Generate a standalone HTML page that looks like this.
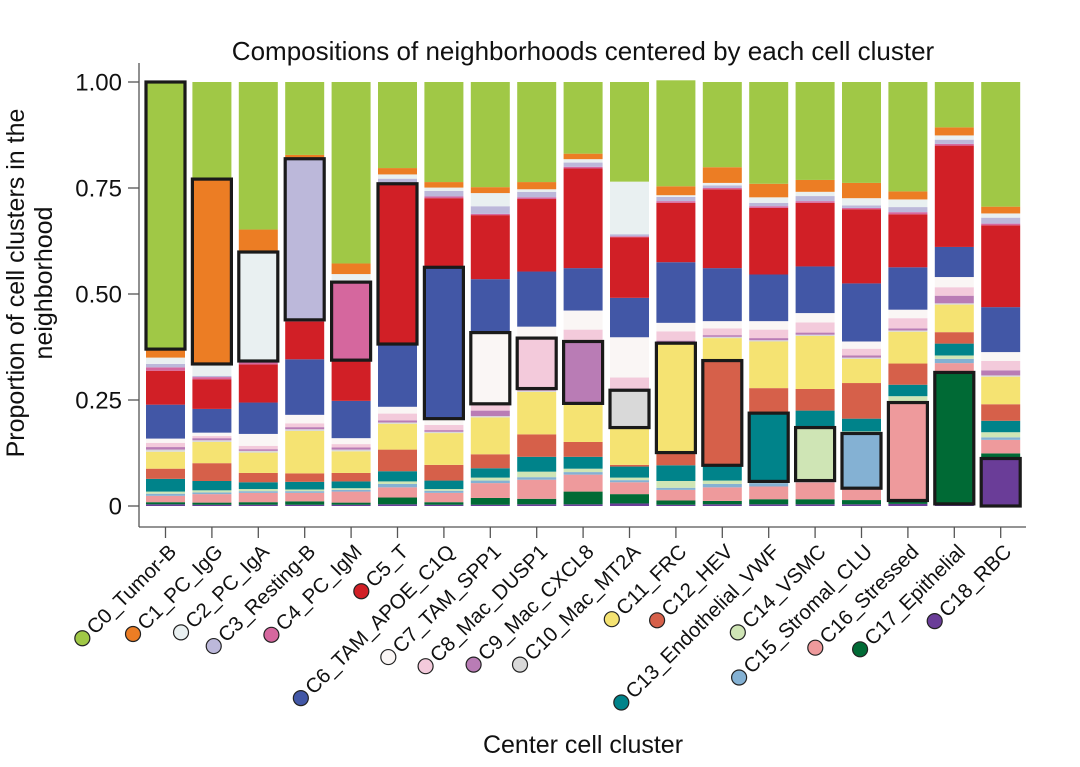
<!DOCTYPE html>
<html><head><meta charset="utf-8"><style>
body{margin:0;background:#fff}
svg{display:block;font-family:"Liberation Sans",Arial,sans-serif}
</style></head><body>
<svg id="chart" width="1080" height="767" viewBox="0 0 1080 767">
<text x="583" y="60" text-anchor="middle" font-size="26" fill="#111">Compositions of neighborhoods centered by each cell cluster</text>
<g transform="translate(24,283) rotate(-90)">
<text x="0" y="0" text-anchor="middle" font-size="25" fill="#111">Proportion of cell clusters in the</text>
<text x="0" y="28" text-anchor="middle" font-size="25" fill="#111">neighborhood</text>
</g>
<text x="583" y="753" text-anchor="middle" font-size="25" fill="#111">Center cell cluster</text>
<line x1="139" y1="63" x2="139" y2="527" stroke="#555" stroke-width="1.3"/>
<line x1="139" y1="527" x2="1026" y2="527" stroke="#555" stroke-width="1.3"/>
<g id="bars"></g><g id="boxes"></g><g id="yticks"></g><g id="xlabels"></g>
</svg>
<script>
const categories = ["C0_Tumor-B","C1_PC_IgG","C2_PC_IgA","C3_Resting-B","C4_PC_IgM","C5_T","C6_TAM_APOE_C1Q","C7_TAM_SPP1","C8_Mac_DUSP1","C9_Mac_CXCL8","C10_Mac_MT2A","C11_FRC","C12_HEV","C13_Endothelial_VWF","C14_VSMC","C15_Stromal_CLU","C16_Stressed","C17_Epithelial","C18_RBC"];
const colors = ["#a0c846","#ec7d24","#e9f0f1","#bcb8da","#d5679e","#d11f26","#4257a6","#faf6f5","#f3cadb","#b97cb5","#d9d9d9","#f5e372","#d6604a","#00838a","#cfe5b5","#84b1d3","#ee9a9c","#006a35","#6a3d98"];
const yTicks = [0,0.25,0.5,0.75,1.0];
const yTickLabels = ["0","0.25","0.50","0.75","1.00"];
// segment order (bottom -> top): C18,C17,C16,C15,C14,C13,C12,C11,C10,C9,C8,C7,C6,C5,C4,C3,C2,C1,C0
const comp0 = [.004,.005,.015,.005,.005,.03,.024,.04,.005,.006,.01,.01,.08,.08,.008,.008,.015,.02,.63];
const comp1 = [.003,.005,.02,.004,.005,.022,.042,.05,.004,.005,.005,.008,.056,.07,.005,.003,.028,.436,.229];
const comp2 = [.003,.006,.022,.004,.005,.016,.022,.048,.004,.004,.008,.028,.074,.09,.005,.003,.257,.053,.348];
const comp3 = [.003,.008,.02,.004,.004,.018,.02,.10,.004,.005,.009,.02,.131,.089,.004,.38,.003,.006,.172];
const comp4 = [.003,.005,.026,.004,.004,.016,.02,.051,.004,.005,.008,.014,.088,.096,.184,.004,.015,.025,.428];
const comp5 = [.004,.016,.024,.008,.006,.024,.051,.061,.003,.005,.016,.016,.148,.378,.003,.009,.01,.015,.203];
const comp6 = [.003,.006,.022,.005,.004,.02,.037,.075,.003,.004,.012,.015,.357,.163,.004,.013,.008,.013,.236];
const comp7 = [.003,.016,.035,.006,.007,.022,.033,.087,.003,.013,.016,.168,.126,.151,.003,.018,.031,.014,.248];
const comp8 = [.004,.013,.045,.006,.013,.035,.053,.10,.003,.005,.119,.027,.13,.171,.004,.013,.006,.017,.236];
const comp9 = [.004,.03,.04,.006,.008,.028,.035,.088,.003,.146,.028,.045,.10,.235,.004,.01,.008,.013,.169];
const comp10 = [.006,.022,.028,.005,.006,.026,.004,.088,.088,.004,.026,.095,.093,.143,.002,.005,.124,0,.235];
const comp11 = [.003,.01,.025,.005,.016,.037,.03,.258,.003,.003,.022,.02,.143,.14,.004,.01,.004,.021,.25];
const comp12 = [.004,.008,.032,.008,.008,.036,.247,.053,.003,.004,.016,.017,.125,.186,.003,.006,.006,.037,.201];
const comp13 = [.004,.012,.03,.008,.004,.161,.059,.11,.003,.005,.02,.02,.11,.157,.004,.008,.013,.032,.24];
const comp14 = [.004,.012,.04,.004,.125,.04,.051,.125,.003,.005,.024,.022,.11,.15,.004,.012,.01,.028,.231];
const comp15 = [.004,.01,.028,.129,.005,.03,.084,.057,.003,.005,.016,.017,.137,.175,.003,.006,.017,.036,.238];
const comp16 = [.005,.008,.231,.003,.012,.027,.05,.075,.003,.005,.024,.02,.10,.125,.005,.012,.018,.019,.258];
const comp17 = [.005,.31,.022,.01,.008,.028,.027,.065,.003,.018,.02,.024,.071,.239,.004,.01,.01,.019,.107];
const comp18 = [.112,.012,.032,.006,.012,.027,.039,.065,.003,.012,.022,.021,.106,.193,.004,.014,.01,.016,.294];
const compositions = [comp0,comp1,comp2,comp3,comp4,comp5,comp6,comp7,comp8,comp9,comp10,comp11,comp12,comp13,comp14,comp15,comp16,comp17,comp18];

const NS = "http://www.w3.org/2000/svg";
const plotX0 = 146, step = 46.4, barW = 39;
const yBase = 506, yTop = 82;
function yScale(v){ return yBase - v*(yBase-yTop); }
function xScale(i){ return plotX0 + i*step; }
function mk(tag, attrs, parent){ const e=document.createElementNS(NS,tag); for(const k in attrs) e.setAttribute(k,attrs[k]); parent.appendChild(e); return e; }

const barsG = document.getElementById('bars'), boxG = document.getElementById('boxes');
compositions.forEach((comp, i) => {
  let cum = 0;
  const x = xScale(i);
  for (let s = 0; s < comp.length; s++) {
    const cl = 18 - s;
    const y1 = yScale(cum), y2 = yScale(cum + comp[s]);
    const r = mk('rect', {x:x, y:y2, width:barW, height:Math.max(0,y1-y2), fill:colors[cl]}, barsG);
    
    
    if (cl === i) {
      const b = mk('rect', {x:x, y:y2, width:barW, height:Math.max(0,y1-y2), fill:'none', stroke:'#1a1a1a', 'stroke-width':3.2}, boxG);
      
      
    }
    cum += comp[s];
  }
});

const yt = document.getElementById('yticks');
yTicks.forEach((v, k) => {
  const y = yScale(v);
  const l = mk('line', {x1:128, y1:y, x2:139, y2:y, stroke:'#555', 'stroke-width':1.3}, yt);
  
  
  const t = mk('text', {x:122, y:y+8.5, 'text-anchor':'end', 'font-size':24, fill:'#111'}, yt);
  
  
  t.textContent = yTickLabels[k];
});

const xl = document.getElementById('xlabels');
categories.forEach((name, i) => {
  const cx = xScale(i) + barW/2;
  const tk = mk('line', {x1:cx, y1:527, x2:cx, y2:538, stroke:'#555', 'stroke-width':1.3}, xl);
  
  
  const g = mk('g', {transform:`translate(${cx+12},${553}) rotate(-45)`}, xl);
  
  
  const t = mk('text', {x:0, y:0, 'text-anchor':'end', 'font-size':20.5, fill:'#111'}, g);
  t.textContent = name;
  const L = t.getComputedTextLength();
  const c = mk('circle', {cx:-L-11, cy:-7, r:7.5, fill:colors[i], stroke:'#222', 'stroke-width':1.2}, g);
  
  
});
</script>
</body></html>
